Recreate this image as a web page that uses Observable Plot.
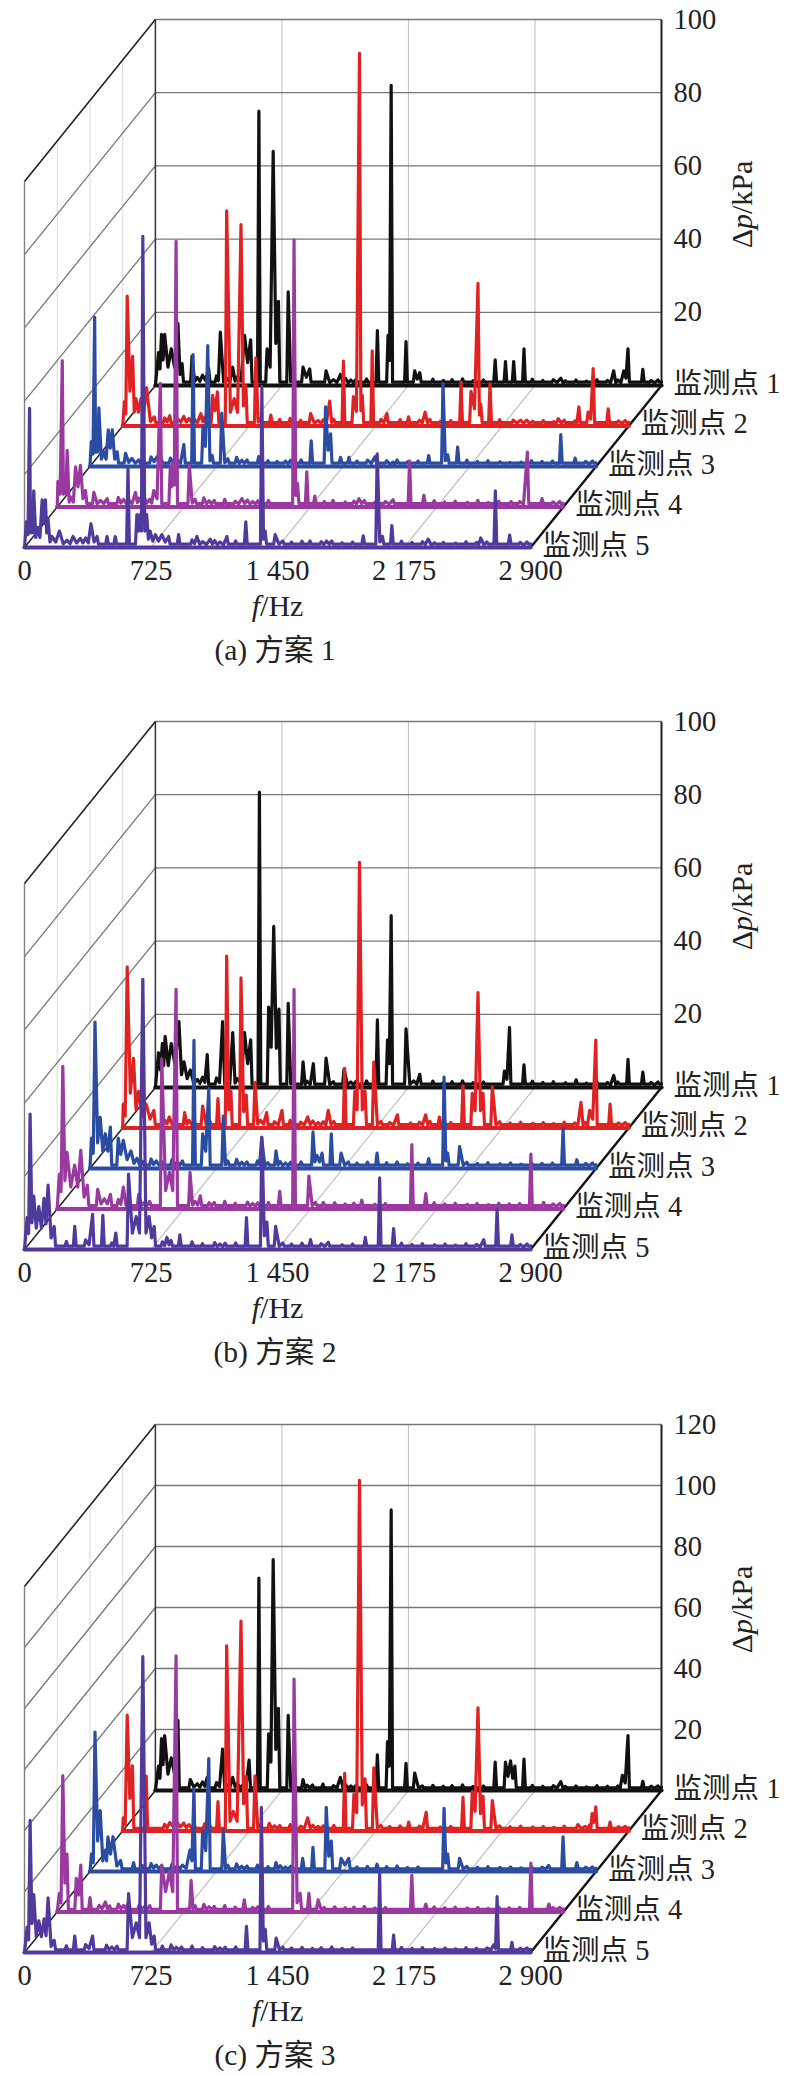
<!DOCTYPE html>
<html><head><meta charset="utf-8">
<script src="https://cdn.jsdelivr.net/npm/d3@7"></script>
<script src="https://cdn.jsdelivr.net/npm/@observablehq/plot@0.6"></script>
<style>
html,body{margin:0;padding:0;background:#fff;width:800px;height:2075px;overflow:hidden}
figure{margin:0;padding:0;position:relative}
figure svg{display:block}
figcaption{width:550px;height:40px;line-height:40px;margin-top:8px;text-align:center;font:29.5px/40px "Liberation Serif","Noto Sans CJK SC",serif;color:#222}
</style></head><body><div id="root"></div>
<script>
// shared axis values
const fTicks=[0,725,1450,2175,2900];
const fTickLabels=["0","725","1 450","2 175","2 900"];
const pTicksA=[0,20,40,60,80,100];
const pTicksC=[0,20,40,60,80,100,120];
const pointNames=["监测点 1","监测点 2","监测点 3","监测点 4","监测点 5"];
const pointColors=["#111111","#e02222","#2b4ca3","#9a3aa0","#52399c"];
const captions=["(a) 方案 1","(b) 方案 2","(c) 方案 3"];
// low-level ripple seen along every trace: Hz, kPa
const rippleHz=[240,270,300,350,380,410,470,500,530,790,840,870,900,960,1020,1090,1120,1150,1210,1480,1530,1590,1650,1700,1760,1820,1880,2160,2220,2280,2350,2410,2470,2530,2590,2650,2840,2880];
const rippleKPa=[2.2,2.8,2.0,2.6,2.1,1.9,2.4,1.8,2.1,2.1,2.5,1.7,1.8,2.1,1.6,1.9,1.5,1.7,1.8,1.8,1.5,1.7,1.4,1.6,1.8,1.3,1.5,1.7,1.4,1.6,1.3,1.5,1.2,1.6,1.4,1.5,1.4,1.5];

// Scheme 1: [Hz, kPa, Hz, kPa ...] peaks
const a1=[18,9,35,14,53,14,91,10,129,17,153,6,210,8,305,4.6,372,14.6,443,5,511,13.7,546,12.5,593,75,640,10,675,64,705,23,761,25.6,846,5,884,4.5,978,4,1060,3,1272,15,1333,13.7,1351,82,1436,12,1486,4,1515,3.5,1947,7,2006,6.5,2053,6.5,2112,10,2323,2,2626,4,2684,4,2708,10,2793,4.4];
const a2=[10,6.6,26,35.5,57,19,76,7.5,105,7.5,137,10.4,181,2.5,315,2,448,3.4,515,8.4,543,9.3,596,58.8,639,7.5,678,55,706,11,763,18.6,849,3,1077,3.4,1186,6.8,1265,17.7,1322,8,1357,101.8,1373,8.4,1430,20.5,1514,3.4,1638,2.5,1733,3.8,1939,12,1996,9.5,2036,39,2052,6,2105,11.6,2238,1.6,2315,1.6,2496,2,2614,5.2,2667,3.8,2696,15.7,2782,4.7];
const a3=[8,6.8,27,40.8,38,7.8,51,16,80,4,105,10,128,10,156,4,204,3.6,280,1.8,385,2.7,461,2.3,538,6,591,30.6,648,11,675,33,700,3,755,14.6,967,2.7,1072,1.4,1268,7,1350,16.3,1379,8.9,1436,2.5,1484,2.5,1634,2.7,1737,1.2,1941,3,2023,22.8,2050,3.2,2107,5.3,2408,1.1,2698,8.7,2780,2.3];
const a4=[4,7,29,40,42,7,57,15.5,80,2.7,105,11,133,11.4,162,4.5,210,4,248,1.8,286,2.3,448,4,496,3,553,4.5,591,33.8,648,11,660,12,681,72.6,757,11.4,1058,2.3,1357,73,1377,6.4,1430,9.6,1476,3,1580,1.8,1729,2.3,1924,2,2019,12.6,2101,3.2,2410,1.8,2601,1.5,2694,15,2778,2.3];
const a5=[11,7,29,38,40,8,53,15.5,76,5.5,101,13,120,13,134,8,158,3,200,4.5,244,2,278,3,320,2.5,381,6.5,416,3,473,3,520,3,593,21.5,644,9,662,9,678,85,700,9,720,4.5,750,3.5,787,3.5,826,3,883,3.5,988,3,1064,2.3,1160,3,1268,7,1360,44,1379,4.5,1436,3.5,1636,1.8,1731,1.8,1941,3.2,2021,25.6,2051,3,2105,6,2313,2.3,2400,1.4,2614,2.6,2698,15.5,2780,3.4];

// Scheme 2
const b1=[18,9.5,40,12,56,14,91,12,135,18,164,7,200,4.8,297,9,385,18,443,15,511,15,546,13,596,80.7,649,22,678,44,708,21.4,761,23,846,7,905,6.5,978,8,1081,5,1272,18.5,1330,13,1351,47,1436,16,1515,3.6,2000,4.5,2029,16.4,2112,6.2,2411,2.1,2626,3.3,2708,7.7,2793,4.2];
const b2=[3,6.5,26,44,62,19,91,10,135,6.5,179,4.8,267,3,355,4.2,458,6,546,8,596,47,620,10,678,41,708,9,758,12.5,825,4.2,913,4.8,1060,3,1178,4.8,1272,16.3,1330,10,1357,72.6,1389,10,1439,18,1574,3.6,1736,3.6,1815,3,1950,11.5,2003,9.5,2036,37,2065,9.5,2118,11.3,2626,7,2676,4.8,2711,24,2793,6.5];
const b3=[9,8.3,29,40,59,14,88,9.5,117,11.3,162,8.3,191,7.7,235,4.8,596,35,646,9.5,681,21.8,764,14.3,984,8.3,1066,4.8,1278,10,1300,3.6,1330,4.2,1383,9.5,1439,4.2,1645,4.2,1941,2.7,2029,25,2050,4.2,2118,6,2711,11,2790,2.4];
const b4=[12,9.5,32,39,56,15.5,100,12,135,16,173,6.5,232,5.4,305,4,379,6,467,4,599,41,643,10,681,60,761,10,820,3.6,1275,4.8,1357,60,1442,9,1525,1.8,1745,2.4,2032,17.6,2112,4.2,2405,1.5,2714,15,2787,1.8];
const b5=[15,8.7,32,37,53,14.6,82,11.7,112,14,135,17.6,170,6.3,288,6.3,390,9.6,449,9.3,523,4.5,596,20.6,640,9,678,73.8,714,9,743,6.3,816,3.3,890,4,1272,8.7,1360,30.7,1389,7.5,1439,6.3,1639,2.7,1741,2,1953,3.3,2035,19.6,2115,5.7,2631,2.7,2708,11,2793,4];

// Scheme 3
const c1=[18,8,35,17,53,18,91,10.7,129,23,200,3.6,297,4.3,385,13.6,443,4.3,537,10,593,69.6,649,18.6,675,75.7,705,26.9,761,24.6,846,3.6,1060,4.3,1272,11.7,1330,16,1351,92,1436,8.9,1486,5.7,1947,9.3,2006,9.3,2035,9.7,2060,8,2112,10.3,2323,2.9,2676,5,2708,18,2793,3];
const c2=[3,4.3,26,38,56,21.4,135,18,310,3,546,9.6,596,60.7,634,6.4,678,68.8,708,17.9,758,18.1,1060,4.3,1272,18.9,1325,12,1357,115,1389,17.1,1439,20.7,1639,2.9,1739,6.1,1950,11,2003,12.9,2036,40.4,2065,11.4,2118,10,2608,2.1,2676,2,2690,5.7,2711,7.9,2793,2.9];
const c3=[9,5.7,29,45.7,59,20,88,7,103,11.4,132,11.4,176,3.6,250,2.9,573,7,596,27,646,13.6,681,37,764,13.6,1066,2.9,1219,4.3,1278,7.9,1354,21,1383,10,1439,4.3,1483,4.3,1645,2.4,2029,20.7,2050,5.7,2118,4.3,2629,2,2711,11.4,2790,2.9];
const c4=[12,6,32,44.7,56,19,109,11,135,15.4,188,4.7,276,3.3,408,3.3,599,15.4,643,13.3,681,84,767,10.4,1072,4,1357,76.4,1392,6.1,1442,6.1,1495,4,2032,12,2112,2.6,2714,16,2817,2.6];
const c5=[15,8.3,32,43.3,53,19,82,10.4,112,11,135,17.9,170,4,288,5.4,390,5.4,596,19.3,640,9.7,678,97,714,9.7,743,5.4,1272,8.6,1357,47.6,1380,7.6,1442,4.7,2035,26,2115,5.7,2690,2.6,2708,18.3,2793,3.3];

const panels=[
 {series:[a1,a2,a3,a4,a5],pMax:100,pTicks:pTicksA,caption:captions[0],h:702},
 {series:[b1,b2,b3,b4,b5],pMax:100,pTicks:pTicksA,caption:captions[1],h:703},
 {series:[c1,c2,c3,c4,c5],pMax:120,pTicks:pTicksC,caption:captions[2],h:670}
];

const DF=187.5;               // Hz of sideways shift per depth step
const fMax=2900, HW=8, FLOOR=0.9;
const SERIF='"Liberation Serif","Noto Sans CJK SC",serif';
const FS=28.5;

function traceFrom(flat,k,DV){
  const pk=[];
  for(let i=0;i<flat.length;i+=2)pk.push([flat[i],flat[i+1]]);
  rippleHz.forEach((f,i)=>{ if(!pk.some(p=>Math.abs(p[0]-f)<22)) pk.push([f,rippleKPa[i]]); });
  pk.sort((p,q)=>p[0]-q[0]);
  const pts=[[0,0]];
  pk.forEach((p,i)=>{
    const q=pk[i+1];
    pts.push(p);
    if(q){
      if(q[0]-p[0]<45) pts.push([(p[0]+q[0])/2,0.5*Math.min(p[1],q[1])]);
      else { pts.push([p[0]+HW,FLOOR]); pts.push([q[0]-HW,FLOOR]); }
    } else pts.push([p[0]+HW,FLOOR]);
  });
  pts.push([fMax,1]);
  return pts.map(([f,v])=>({x:f+k*DF,y:v+k*DV}));
}

function draw(p){
  const DV=40.5*p.pMax/366;
  const bx=4*DF, by=4*DV;
  const seg=(x1,y1,x2,y2)=>({x1,y1,x2,y2});
  const inner=fTicks.slice(1,-1);
  const depths=[1,2,3];
  const gridP=p.pTicks.slice(1);
  const marks=[
    // side wall verticals, light
    Plot.link(depths.map(k=>seg(k*DF,k*DV,k*DF,k*DV+p.pMax)),{x1:"x1",y1:"y1",x2:"x2",y2:"y2",stroke:"#dddddd",strokeWidth:1.1}),
    // back wall verticals
    Plot.link(inner.map(f=>seg(f+bx,by,f+bx,by+p.pMax)),{x1:"x1",y1:"y1",x2:"x2",y2:"y2",stroke:"#c2c2c2",strokeWidth:1.1}),
    // floor diagonals
    Plot.link(inner.map(f=>seg(f,0,f+bx,by)),{x1:"x1",y1:"y1",x2:"x2",y2:"y2",stroke:"#b5b5b5",strokeWidth:1.1}),
    // back wall horizontals
    Plot.link(gridP.map(v=>seg(bx,v+by,fMax+bx,v+by)),{x1:"x1",y1:"y1",x2:"x2",y2:"y2",stroke:"#777777",strokeWidth:1.3}),
    // side wall diagonals
    Plot.link(gridP.slice(0,-1).map(v=>seg(0,v,bx,v+by)),{x1:"x1",y1:"y1",x2:"x2",y2:"y2",stroke:"#777777",strokeWidth:1.3}),
    // frame
    Plot.link([seg(0,0,0,p.pMax)],{x1:"x1",y1:"y1",x2:"x2",y2:"y2",stroke:"#808080",strokeWidth:1.4}),
    Plot.link([seg(bx,by,bx,by+p.pMax)],{x1:"x1",y1:"y1",x2:"x2",y2:"y2",stroke:"#333333",strokeWidth:1.5}),
    Plot.link([seg(fMax+bx,by,fMax+bx,by+p.pMax)],{x1:"x1",y1:"y1",x2:"x2",y2:"y2",stroke:"#222222",strokeWidth:2}),
    Plot.link([seg(0,p.pMax,bx,p.pMax+by)],{x1:"x1",y1:"y1",x2:"x2",y2:"y2",stroke:"#222222",strokeWidth:1.6}),
    Plot.link([seg(0,0,bx,by)],{x1:"x1",y1:"y1",x2:"x2",y2:"y2",stroke:"#222222",strokeWidth:1.5}),
    Plot.link([seg(fMax,0,fMax+bx,by)],{x1:"x1",y1:"y1",x2:"x2",y2:"y2",stroke:"#111111",strokeWidth:2.4})
  ];
  p.series.forEach((flat,i)=>{
    const k=4-i;
    marks.push(Plot.line(traceFrom(flat,k,DV),{x:"x",y:"y",stroke:pointColors[i],strokeWidth:3.2,strokeLinejoin:"round"}));
    marks.push(Plot.line([{x:k*DF,y:k*DV},{x:fMax+k*DF,y:k*DV}],{x:"x",y:"y",stroke:pointColors[i],strokeWidth:4.2}));
  });
  const txt={fontFamily:SERIF,fontSize:FS,fill:"#222",stroke:null};
  marks.push(
    Plot.text(p.pTicks.slice(1),{x:()=>fMax+bx,y:v=>v+by,text:v=>String(v),dx:12,textAnchor:"start",lineAnchor:"middle",...txt}),
    Plot.text(pointNames,{x:(d,i)=>fMax+(4-i)*DF,y:(d,i)=>(4-i)*DV,text:d=>d,dx:12,dy:-2,textAnchor:"start",lineAnchor:"middle",...txt}),
    Plot.text(fTicks,{x:f=>f,y:()=>0,text:(f,i)=>fTickLabels[i],dy:23,textAnchor:"middle",lineAnchor:"middle",...txt}),
    Plot.text(["f/Hz"],{x:()=>fMax/2,y:()=>0,text:d=>d,dy:59,textAnchor:"middle",lineAnchor:"middle",...txt,fontSize:30}),
    Plot.text(["Δp/kPa"],{x:()=>fMax+bx,y:()=>p.pMax/2+by,text:d=>d,dx:81,dy:2,rotate:-90,textAnchor:"middle",lineAnchor:"middle",...txt,fontSize:30})
  );
  const chart=Plot.plot({
    width:800,height:622,
    marginLeft:24,marginRight:139,marginTop:19,marginBottom:75,
    style:{background:"#fff",overflow:"visible"},
    x:{domain:[0,fMax+bx],axis:null},
    y:{domain:[0,p.pMax+by],axis:null},
    marks
  });
  d3.select(chart).selectAll("text").each(function(){
    const t=this.textContent, el=d3.select(this);
    const parts=t==="f/Hz"?[["f",1],["/Hz",0]]:t==="Δp/kPa"?[["Δ",0],["p",1],["/kPa",0]]:null;
    if(!parts)return;
    el.text(null);
    parts.forEach(([s,it])=>el.append("tspan").attr("font-style",it?"italic":"normal").text(s));
  });
  const fig=document.createElement("figure");
  fig.style.height=p.h+"px";
  fig.appendChild(chart);
  const cap=document.createElement("figcaption");
  cap.textContent=p.caption;
  fig.appendChild(cap);
  document.getElementById("root").appendChild(fig);
}
panels.forEach(draw);
</script></body></html>
